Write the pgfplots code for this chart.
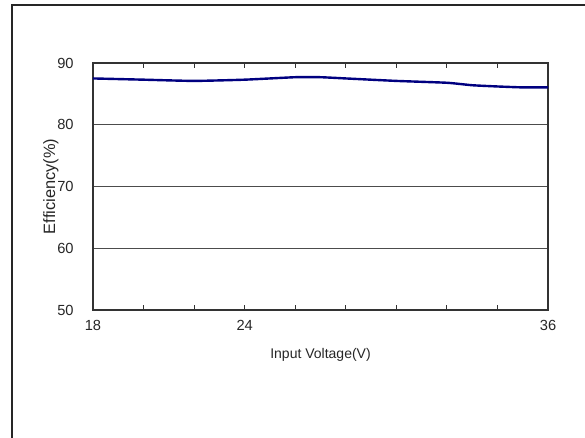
\documentclass[border=0pt]{standalone}
\usepackage{pgfplots}
\pgfplotsset{compat=1.18}
\usepackage{fontspec}
\setmainfont{Liberation Sans}
\definecolor{navyline}{RGB}{0,0,128}
\begin{document}
\begin{tikzpicture}
\useasboundingbox (0,0) rectangle (438.75pt,327.75pt);
\draw[line width=1.5pt, black!85] (9pt,-2pt) -- (9pt,324pt) -- (440pt,324pt);
\begin{axis}[
  scale only axis,
  width=341.25pt, height=185.25pt,
  at={(69.75pt,95.25pt)}, anchor=south west,
  xmin=18, xmax=36, ymin=50, ymax=90,
  xtick={18,20,22,24,26,28,30,32,34,36},
  xticklabels={18,{},{},24,{},{},{},{},{},36},
  ytick={50,60,70,80,90},
  tick align=inside,
  major tick length=4pt,
  ytick style={draw=none},
  xtick style={black!80, line width=0.8pt},
  ymajorgrids,
  grid style={black!70, line width=0.6pt},
  axis line style={black!80, line width=0.9pt},
  tick label style={font=\fontsize{11}{13}\selectfont, text=black!85},
  /pgf/number format/assume math mode=true,
  xticklabel style={yshift=-4pt},
  yticklabel style={xshift=-11pt},
  label style={text=black!85},
  xlabel={Input Voltage(V)},
  ylabel={Efficiency(\%)},
  xlabel style={font=\fontsize{10.5}{13}\selectfont, at={(axis description cs:0.5,-0.182)}, anchor=center},
  ylabel style={font=\fontsize{12.3}{14}\selectfont, at={(axis description cs:-0.0923,0.5)}, anchor=center},
  clip=false,
]
\addplot[navyline, line width=1.8pt, smooth, tension=0.3] coordinates {
(18,87.5) (20,87.3) (22,87.1) (24,87.3) (26,87.7) (27,87.7) (28,87.5)
(30,87.1) (32,86.8) (33,86.4) (34,86.2) (35,86.05) (36,86.05)
};
\end{axis}
\end{tikzpicture}
\end{document}
